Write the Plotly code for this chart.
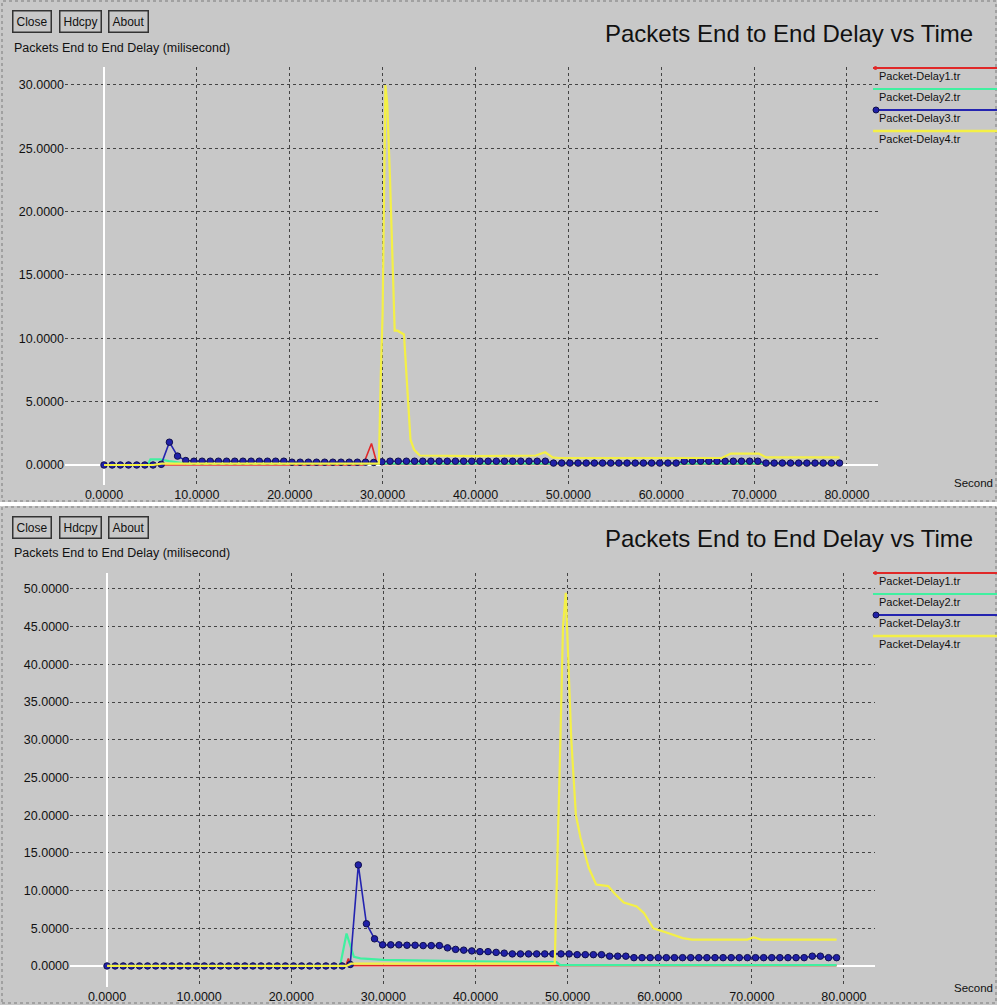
import plotly.graph_objects as go

W, H = 997, 1005

# ---------------- data ----------------
TIME = [0, 0.88, 1.76, 2.64, 3.52, 4.4, 5.28, 6.16, 7.04, 7.92,
        8.8, 9.68, 10.56, 11.44, 12.32, 13.2, 14.08, 14.96, 15.84, 16.72,
        17.6, 18.48, 19.36, 20.24, 21.12, 22.0, 22.88, 23.76, 24.64, 25.52,
        26.4, 27.28, 28.16, 29.04, 29.92, 30.8, 31.68, 32.56, 33.44, 34.32,
        35.2, 36.08, 36.96, 37.84, 38.72, 39.6, 40.48, 41.36, 42.24, 43.12,
        44.0, 44.88, 45.76, 46.64, 47.52, 48.4, 49.28, 50.16, 51.04, 51.92,
        52.8, 53.68, 54.56, 55.44, 56.32, 57.2, 58.08, 58.96, 59.84, 60.72,
        61.6, 62.48, 63.36, 64.24, 65.12, 66.0, 66.88, 67.76, 68.64, 69.52,
        70.4, 71.28, 72.16, 73.04, 73.92, 74.8, 75.68, 76.56, 77.44, 78.32,
        79.2]

# Top chart
TOP_D1_X = [0, 27.9, 28.8, 29.4, 30.0, 79.2]
TOP_D1_Y = [0, 0, 1.7, 0.1, 0.05, 0.05]

TOP_D2_X = [0, 4.7, 5.0, 6.0, 7.0, 9.0, 30.0, 79.2]
TOP_D2_Y = [0, 0, 0.45, 0.45, 0.3, 0.1, 0.1, 0.1]

TOP_D3_Y = [0, 0, 0, 0, 0, 0, 0, 0.05, 1.8, 0.7,
            0.35, 0.3, 0.3, 0.3, 0.3, 0.3, 0.3, 0.3, 0.3, 0.3,
            0.3, 0.3, 0.3, 0.22, 0.22, 0.22, 0.22, 0.22, 0.22, 0.22,
            0.22, 0.22, 0.22, 0.2, 0.25, 0.3, 0.3, 0.3, 0.3, 0.3,
            0.3, 0.3, 0.3, 0.3, 0.3, 0.3, 0.3, 0.3, 0.3, 0.3,
            0.3, 0.3, 0.3, 0.3, 0.3, 0.15, 0.15, 0.15, 0.15, 0.15,
            0.15, 0.15, 0.15, 0.15, 0.15, 0.15, 0.15, 0.15, 0.15, 0.15,
            0.15, 0.3, 0.3, 0.3, 0.3, 0.3, 0.3, 0.3, 0.3, 0.3,
            0.3, 0.15, 0.15, 0.15, 0.15, 0.15, 0.15, 0.15, 0.15, 0.15,
            0.15]

TOP_D4_X = [0, 5.3, 6.2, 29.6, 29.8, 30.0, 30.3, 30.5, 30.8, 31.0, 31.3, 31.6,
            32.0, 32.3, 33.0, 33.4, 34.0, 40.0, 46.5, 47.5, 48.3, 49.0, 66.5,
            67.5, 70.5, 71.3, 79.2]
TOP_D4_Y = [0, 0, 0.1, 0.1, 7.0, 12.0, 30.0, 28.5, 22.5, 17.0, 10.6, 10.6,
            10.4, 10.3, 2.0, 1.2, 0.75, 0.7, 0.75, 1.0, 0.6, 0.55, 0.55,
            0.9, 0.9, 0.6, 0.6]

# Bottom chart
BOT_D1_X = [0, 25.9, 26.2, 26.5, 79.2]
BOT_D1_Y = [0, 0, 1.0, 0.05, 0.05]

BOT_D2_X = [0, 25.3, 26.0, 26.8, 27.5, 30.0, 40.0, 48.8, 49.2, 79.2]
BOT_D2_Y = [0, 0, 4.3, 1.2, 1.0, 0.8, 0.6, 0.5, 0.1, 0.1]

BOT_D3_Y = [0, 0, 0, 0, 0, 0, 0, 0, 0, 0,
            0, 0, 0, 0, 0, 0, 0, 0, 0, 0,
            0, 0, 0, 0, 0, 0, 0, 0, 0, 0,
            0.2, 13.4, 5.6, 3.6, 2.8, 2.8, 2.8, 2.75, 2.75, 2.7,
            2.7, 2.7, 2.4, 2.2, 2.1, 2.0, 1.9, 1.9, 1.8, 1.7,
            1.6, 1.6, 1.6, 1.6, 1.6, 1.6, 1.6, 1.6, 1.5, 1.5,
            1.5, 1.5, 1.3, 1.3, 1.3, 1.1, 1.1, 1.1, 1.1, 1.1,
            1.1, 1.1, 1.1, 1.1, 1.1, 1.1, 1.1, 1.1, 1.1, 1.1,
            1.1, 1.1, 1.1, 1.1, 1.1, 1.1, 1.1, 1.3, 1.3, 1.1,
            1.1]

BOT_D4_X = [0, 26.0, 26.5, 34.0, 40.0, 48.6, 49.2, 49.5, 49.8, 50.1, 50.4, 50.9,
            51.4, 52.3, 53.1, 54.4, 55.1, 56.1, 57.5, 58.3, 59.3, 60.8, 62.5,
            63.5, 69.5, 70.2, 71.0, 79.2]
BOT_D4_Y = [0, 0, 0.3, 0.3, 0.25, 0.3, 29.0, 45.0, 49.5, 40.0, 30.0, 20.0,
            17.0, 13.0, 10.8, 10.6, 9.6, 8.4, 7.9, 7.0, 5.0, 4.4, 3.7,
            3.5, 3.5, 3.8, 3.5, 3.5]

SERIES_NAMES = ["Packet-Delay1.tr", "Packet-Delay2.tr", "Packet-Delay3.tr", "Packet-Delay4.tr"]
TITLE = "Packets End to End Delay vs Time"
Y_LABEL = "Packets End to End Delay (milisecond)"
X_LABEL = "Second"
BUTTONS = ["Close", "Hdcpy", "About"]

# ---------------- style ----------------
BG = "#c8c8c8"
COLORS = ["#e02828", "#40f0a0", "#2424b0", "#f4f046"]
FONT = "Liberation Sans, Arial, sans-serif"


def px(x):
    return x / W


def py(y):
    return 1 - y / H


fig = go.Figure()


def add_panel(ax, d1, d2, d3y, d4):
    xa = "x" if ax == 1 else "x2"
    ya = "y" if ax == 1 else "y2"
    fig.add_trace(go.Scatter(x=d1[0], y=d1[1], mode="lines", xaxis=xa, yaxis=ya,
                             line=dict(color=COLORS[0], width=1.6), showlegend=False))
    fig.add_trace(go.Scatter(x=d2[0], y=d2[1], mode="lines", xaxis=xa, yaxis=ya,
                             line=dict(color=COLORS[1], width=2.2), showlegend=False))
    fig.add_trace(go.Scatter(x=TIME, y=d3y, mode="lines+markers", xaxis=xa, yaxis=ya,
                             line=dict(color=COLORS[2], width=1.6),
                             marker=dict(size=6.5, color="#2020a8",
                                         line=dict(color="#10104a", width=1)),
                             showlegend=False))
    fig.add_trace(go.Scatter(x=d4[0], y=d4[1], mode="lines", xaxis=xa, yaxis=ya,
                             line=dict(color=COLORS[3], width=2.2), showlegend=False))


add_panel(1, (TOP_D1_X, TOP_D1_Y), (TOP_D2_X, TOP_D2_Y), TOP_D3_Y, (TOP_D4_X, TOP_D4_Y))
add_panel(2, (BOT_D1_X, BOT_D1_Y), (BOT_D2_X, BOT_D2_Y), BOT_D3_Y, (BOT_D4_X, BOT_D4_Y))

axis_common = dict(
    showgrid=True, gridcolor="#444444", griddash="dot", gridwidth=1,
    zeroline=True, zerolinecolor="#ffffff", zerolinewidth=2,
    showline=False, ticks="", tickformat=".4f",
    tickfont=dict(family=FONT, size=12.5, color="#111111"),
)

# panel geometry (pixels)
T_L, T_R, T_T, T_B = 65, 878, 67, 485
B_L, B_R, B_T, B_B = 70, 875, 573, 987

fig.update_layout(
    width=W, height=H,
    margin=dict(l=0, r=0, t=0, b=0),
    paper_bgcolor=BG, plot_bgcolor=BG,
    showlegend=False,
    xaxis=dict(domain=[px(T_L), px(T_R)], range=[-4.2, 83.34], dtick=10, tick0=0,
               anchor="y", **axis_common),
    yaxis=dict(domain=[py(T_B), py(T_T)], range=[-1.58, 31.42], dtick=5, tick0=0,
               anchor="x", **axis_common),
    xaxis2=dict(domain=[px(B_L), px(B_R)], range=[-4.02, 83.37], dtick=10, tick0=0,
                anchor="y2", **axis_common),
    yaxis2=dict(domain=[py(B_B), py(B_T)], range=[-2.79, 52.12], dtick=5, tick0=0,
                anchor="x2", **axis_common),
)

shapes = []
annotations = []

# white separator between the two windows and dotted window borders
shapes.append(dict(type="rect", xref="paper", yref="paper", x0=0, x1=1,
                   y0=py(506), y1=py(502), fillcolor="#ffffff", line=dict(width=0), layer="below"))
for (top, bot) in [(1, 501), (507, 1003)]:
    shapes.append(dict(type="rect", xref="paper", yref="paper",
                       x0=px(2), x1=px(996), y0=py(bot), y1=py(top),
                       line=dict(color="#7a7a7a", width=1, dash="dot"), layer="below"))

for off in [0, 505]:
    # buttons
    for name, cx in zip(BUTTONS, [32, 80, 128]):
        annotations.append(dict(text=name, xref="paper", yref="paper",
                                x=px(cx), y=py(22 + off), xanchor="center", yanchor="middle",
                                showarrow=False, font=dict(family=FONT, size=12, color="#111"),
                                bordercolor="#333333", borderwidth=1.5, borderpad=3, bgcolor=BG))
    # y label
    annotations.append(dict(text=Y_LABEL, xref="paper", yref="paper",
                            x=px(12), y=py(48 + off), xanchor="left", yanchor="middle",
                            showarrow=False, font=dict(family=FONT, size=12.5, color="#111")))
    # title
    annotations.append(dict(text=TITLE, xref="paper", yref="paper",
                            x=px(975), y=py(33 + off), xanchor="right", yanchor="middle",
                            showarrow=False, font=dict(family=FONT, size=24, color="#111")))
    # x label
    annotations.append(dict(text=X_LABEL, xref="paper", yref="paper",
                            x=px(995), y=py(483 + off), xanchor="right",
                            yanchor="middle", showarrow=False,
                            font=dict(family=FONT, size=11.5, color="#111")))
    # legend
    for k, (name, col) in enumerate(zip(SERIES_NAMES, COLORS)):
        ty = 76 + off + 21 * k
        ly = ty - 8
        shapes.append(dict(type="line", xref="paper", yref="paper",
                           x0=px(873), x1=1.0, y0=py(ly), y1=py(ly),
                           line=dict(color=col, width=2 if k != 3 else 2.5)))
        if k == 2:
            shapes.append(dict(type="circle", xref="paper", yref="paper",
                               x0=px(873), x1=px(879), y0=py(ly + 3), y1=py(ly - 3),
                               fillcolor="#2020a8", line=dict(color="#10104a", width=1)))
        elif k == 0:
            shapes.append(dict(type="circle", xref="paper", yref="paper",
                               x0=px(874), x1=px(877), y0=py(ly + 1.5), y1=py(ly - 1.5),
                               fillcolor=col, line=dict(color=col, width=1)))
        annotations.append(dict(text=name, xref="paper", yref="paper",
                                x=px(877), y=py(ty), xanchor="left", yanchor="middle",
                                showarrow=False, font=dict(family=FONT, size=11, color="#111")))

fig.update_layout(shapes=shapes, annotations=annotations)

fig.write_html(
    "out.html",
    config={"displayModeBar": False},
    post_script="document.body.style.margin='0';document.body.style.overflow='hidden';"
                "document.body.style.background='" + BG + "';",
)
